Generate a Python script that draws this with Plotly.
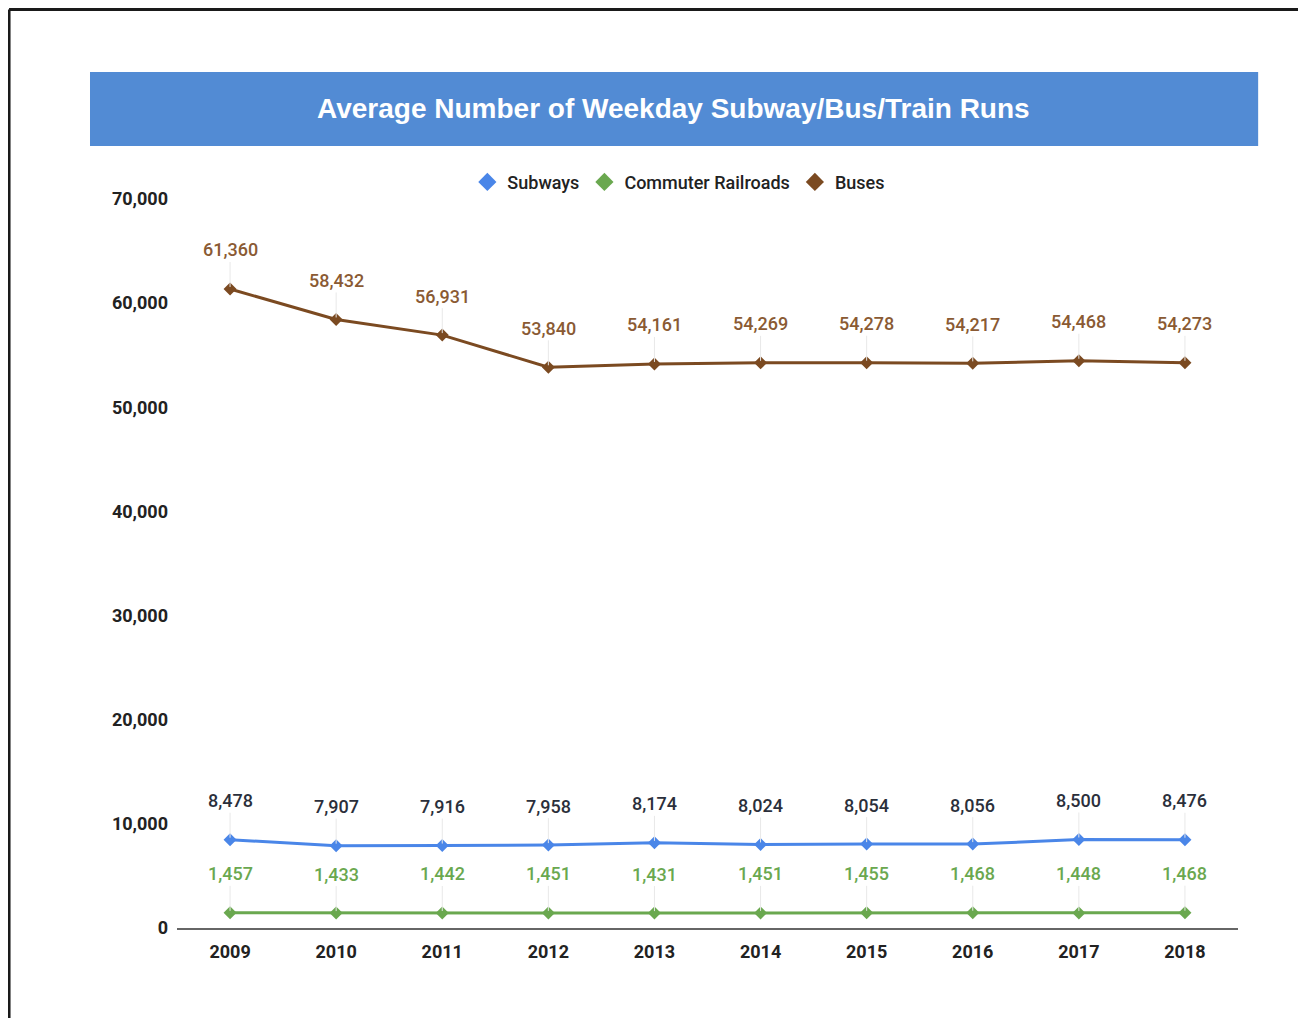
import plotly.graph_objects as go

years = ["2009", "2010", "2011", "2012", "2013", "2014", "2015", "2016", "2017", "2018"]
subways = [8478, 7907, 7916, 7958, 8174, 8024, 8054, 8056, 8500, 8476]
railroads = [1457, 1433, 1442, 1451, 1431, 1451, 1455, 1468, 1448, 1468]
buses = [61360, 58432, 56931, 53840, 54161, 54269, 54278, 54217, 54468, 54273]
y_ticks = [0, 10000, 20000, 30000, 40000, 50000, 60000, 70000]

FONT = "Roboto"
series = [
    ("Subways", subways, "#4a86e8", "#2b2f3b"),
    ("Commuter Railroads", railroads, "#6aa84f", "#6aa84f"),
    ("Buses", buses, "#7b4a21", "#8a5a33"),
]

fig = go.Figure()
for name, vals, color, label_color in series:
    fig.add_trace(go.Scatter(
        x=years, y=vals, mode="lines+markers", name=name,
        line=dict(color=color, width=3),
        marker=dict(symbol="diamond", size=10, color=color),
        showlegend=False, hoverinfo="x+y",
    ))
    # legend-only entry so the legend shows just the diamond
    fig.add_trace(go.Scatter(
        x=[None], y=[None], mode="markers", name=name,
        marker=dict(symbol="diamond", size=14, color=color),
    ))
    for i, v in enumerate(vals):
        fig.add_annotation(
            x=i, y=v, xref="x", yref="y", text=f"{v:,}",
            showarrow=True, arrowhead=0, arrowwidth=1, arrowcolor="#e8e8e8",
            ax=0, ay=-39, standoff=2,
            font=dict(family=FONT, size=18, color=label_color, weight=500),
        )

# title banner
fig.add_shape(type="rect", xref="paper", yref="paper",
              x0=-0.082, x1=1.019, y0=1.0727, y1=1.1742,
              fillcolor="#528bd4", line=dict(width=0), layer="below")
fig.add_annotation(xref="paper", yref="paper", x=0.4684, y=1.1235,
                   xanchor="center", yanchor="middle",
                   text="Average Number of Weekday Subway/Bus/Train Runs",
                   showarrow=False,
                   font=dict(family="Liberation Sans", size=28, color="white", weight=700))

# outer frame (top and left edges)
fig.add_shape(type="line", xref="paper", yref="paper", x0=-0.1583, x1=1.2,
              y0=1.2599, y1=1.2599, line=dict(color="#1a1a1a", width=3))
fig.add_shape(type="line", xref="paper", yref="paper", x0=-0.1583, x1=-0.1583,
              y0=1.2599, y1=-0.3, line=dict(color="#1a1a1a", width=3))

# page body has an 8px margin, so the figure is 8px smaller than the window
fig.update_layout(
    width=1298, height=1010,
    margin=dict(l=169, r=68, t=191, b=90),
    paper_bgcolor="white", plot_bgcolor="white",
    font=dict(family=FONT, size=18, color="#222222"),
    legend=dict(orientation="h", x=0.473, y=1.023, xanchor="center", yanchor="middle",
                font=dict(family=FONT, size=18, color="#222222", weight=500),
                itemsizing="trace"),
    xaxis=dict(type="category", range=[-0.5, 9.5], showgrid=False,
               showline=True, linecolor="#666666", linewidth=2,
               tickfont=dict(family=FONT, size=18, color="#222222", weight=700),
               ticks="", ticklabelstandoff=6),
    yaxis=dict(range=[0, 70000], tickvals=y_ticks, tickformat=",d",
               showgrid=False, zeroline=False, showline=False,
               tickfont=dict(family=FONT, size=18, color="#222222", weight=700),
               ticks="", ticklabelstandoff=8),
)

fig.write_html("out.html")
